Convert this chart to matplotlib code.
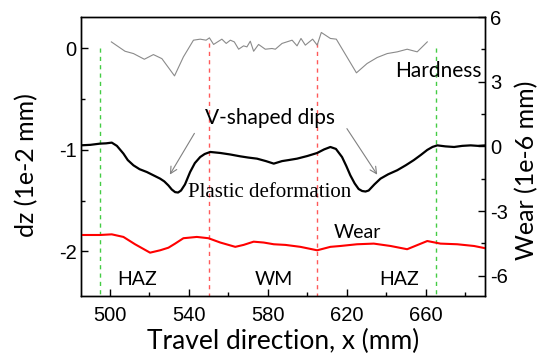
import matplotlib
matplotlib.use("Agg")
import matplotlib.pyplot as plt
from matplotlib.ticker import MultipleLocator

plt.rcParams["axes.unicode_minus"] = False

# Hardness profile (left-axis units, offset curve)
hard_x = [500.7, 507.6, 511.9, 517.4, 522.0, 526.3, 532.7, 537.2, 542.3, 545.7, 548.7,
          550.4, 552.5, 556.7, 558.9, 561.0, 563.0, 565.2, 567.7, 569.4, 571.1, 572.8,
          575.3, 578.7, 582.1, 583.8, 587.2, 592.3, 594.8, 596.8, 599.0, 602.7, 605.0,
          607.1, 611.7, 614.7, 624.9, 630.3, 635.4, 640.5, 645.6, 650.6, 655.7, 660.8]
hard_y = [0.065, -0.027, -0.05, -0.106, -0.06, -0.10, -0.27, -0.083, 0.082, 0.092, 0.082,
          0.105, 0.04, 0.092, 0.05, 0.082, 0.065, -0.007, 0.026, 0.016, 0.072, -0.027,
          0.04, -0.007, 0.0, -0.007, 0.05, 0.082, 0.026, 0.099, 0.033, 0.092, 0.033,
          0.158, 0.099, 0.092, -0.24, -0.148, -0.089, -0.05, -0.033, -0.007, -0.033, 0.065]

# Surface displacement dz (1e-2 mm)
dz_x = [484.8, 490.0, 494.9, 498.0, 500.9, 503.5, 506.8, 509.0, 511.9, 515.0, 518.7,
        522.0, 525.4, 527.5, 529.6, 531.3, 533.0, 534.5, 536.0, 538.0, 540.6, 543.0,
        545.7, 548.0, 550.8, 555.9, 561.0, 566.0, 570.0, 574.5, 579.0, 583.0, 587.2,
        590.5, 594.8, 600.0, 605.0, 608.5, 611.7, 614.5, 617.6, 619.8, 621.8, 624.0,
        626.0, 627.8, 629.5, 631.1, 634.0, 637.1, 641.0, 645.6, 650.0, 654.0, 657.5,
        660.8, 663.5, 665.9, 670.0, 674.4, 678.5, 682.8, 686.5, 690.4]
dz_y = [-0.955, -0.95, -0.938, -0.935, -0.928, -0.96, -1.036, -1.10, -1.152, -1.19, -1.218,
        -1.25, -1.283, -1.31, -1.35, -1.39, -1.416, -1.42, -1.40, -1.34, -1.218, -1.13,
        -1.07, -1.04, -1.02, -1.03, -1.045, -1.063, -1.075, -1.086, -1.11, -1.135, -1.11,
        -1.10, -1.086, -1.06, -1.03, -0.995, -0.971, -0.99, -1.07, -1.16, -1.25, -1.33,
        -1.385, -1.405, -1.41, -1.40, -1.34, -1.283, -1.24, -1.20, -1.15, -1.10, -1.05,
        -1.00, -0.97, -0.955, -0.965, -0.971, -0.96, -0.955, -0.96, -0.955]

# Wear (1e-6 mm)
wear_x = [484.8, 494.9, 500.9, 506.8, 512.7, 520.3, 525.4, 529.6, 533.0, 537.2, 544.0,
          549.9, 555.9, 563.5, 567.7, 572.8, 577.9, 583.0, 588.9, 596.5, 605.0, 611.7,
          616.8, 625.2, 633.7, 642.2, 650.6, 660.8, 667.5, 676.0, 684.5, 690.5]
wear_y = [-4.11, -4.11, -4.08, -4.20, -4.54, -4.93, -4.82, -4.70, -4.51, -4.26, -4.20,
          -4.26, -4.46, -4.66, -4.57, -4.42, -4.46, -4.54, -4.57, -4.66, -4.82, -4.66,
          -4.62, -4.54, -4.51, -4.62, -4.77, -4.39, -4.51, -4.54, -4.62, -4.73]

haz_bounds = [495, 665]
wm_bounds = [550, 605]

x_ticks = [500, 540, 580, 620, 660]
left_ticks = [0, -1, -2]
right_ticks = [6, 3, 0, -3, -6]

lab_font = ["Lato", "DejaVu Sans"]
tick_font = "Liberation Sans"

fig = plt.figure(figsize=(5.51, 3.59), dpi=100)
ax = fig.add_axes([0.147, 0.1755, 0.733, 0.777])
ax2 = ax.twinx()

for xb in haz_bounds:
    ax.plot([xb, xb], [0.0, -2.45], color="#44cc44", lw=1.0, ls=(0, (3, 3)))
for xb in wm_bounds:
    ax.plot([xb, xb], [0.05, -2.45], color="#ff5a5a", lw=1.0, ls=(0, (3, 3)))

ax.plot(hard_x, hard_y, color="#8a8a8a", lw=0.8)
ax.plot(dz_x, dz_y, color="black", lw=1.6)
ax2.plot(wear_x, wear_y, color="red", lw=1.5)

ax.set_xlim(485.3, 690)
ax.set_ylim(-2.44, 0.31)
ax2.set_ylim(-6.94, 6)

ax.set_xticks(x_ticks)
ax.set_yticks(left_ticks)
ax2.set_yticks(right_ticks)
ax.xaxis.set_minor_locator(MultipleLocator(20))
ax.yaxis.set_minor_locator(MultipleLocator(0.5))
ax2.yaxis.set_minor_locator(MultipleLocator(1.5))

for a in (ax, ax2):
    a.tick_params(which="major", direction="in", length=5, width=1, labelsize=14.5)
    a.tick_params(which="minor", direction="in", length=3, width=1)
    for lab in a.get_xticklabels() + a.get_yticklabels():
        lab.set_fontfamily(tick_font)
    for s in a.spines.values():
        s.set_linewidth(1.0)
ax.tick_params(axis="x", pad=7)
ax.tick_params(axis="y", pad=3)
ax2.tick_params(axis="y", pad=4)

ax.set_xlabel("Travel direction, x (mm)", fontsize=19, family=lab_font, labelpad=3)
ax.set_ylabel("dz (1e-2 mm)", fontsize=18, family=lab_font)
ax2.set_ylabel("Wear (1e-6 mm)", fontsize=18, family=lab_font)
ax.yaxis.set_label_coords(-0.105, 0.47)
ax2.yaxis.set_label_coords(1.075, 0.45)

ax.text(666.3, -0.224, "Hardness", fontsize=15, family=lab_font, ha="center", va="center")
ax.text(581, -0.688, "V-shaped dips", fontsize=15, family=lab_font, ha="center", va="center")
ax.text(580.7, -1.42, "Plastic deformation", fontsize=15, family="Liberation Serif",
        ha="center", va="center")
ax.text(625.2, -1.81, "Wear", fontsize=14, family=lab_font, ha="center", va="center")
ax.text(514, -2.28, "HAZ", fontsize=14, family=lab_font, ha="center", va="center")
ax.text(582.8, -2.28, "WM", fontsize=14, family=lab_font, ha="center", va="center")
ax.text(646.4, -2.28, "HAZ", fontsize=14, family=lab_font, ha="center", va="center")

arrow_kw = dict(arrowstyle="->", color="#808080", lw=0.8, mutation_scale=12)
ax.annotate("", xy=(529.6, -1.267), xytext=(543.5, -0.813), arrowprops=arrow_kw)
ax.annotate("", xy=(636.2, -1.267), xytext=(619.3, -0.767), arrowprops=arrow_kw)

fig.savefig("out.png", dpi=100)
